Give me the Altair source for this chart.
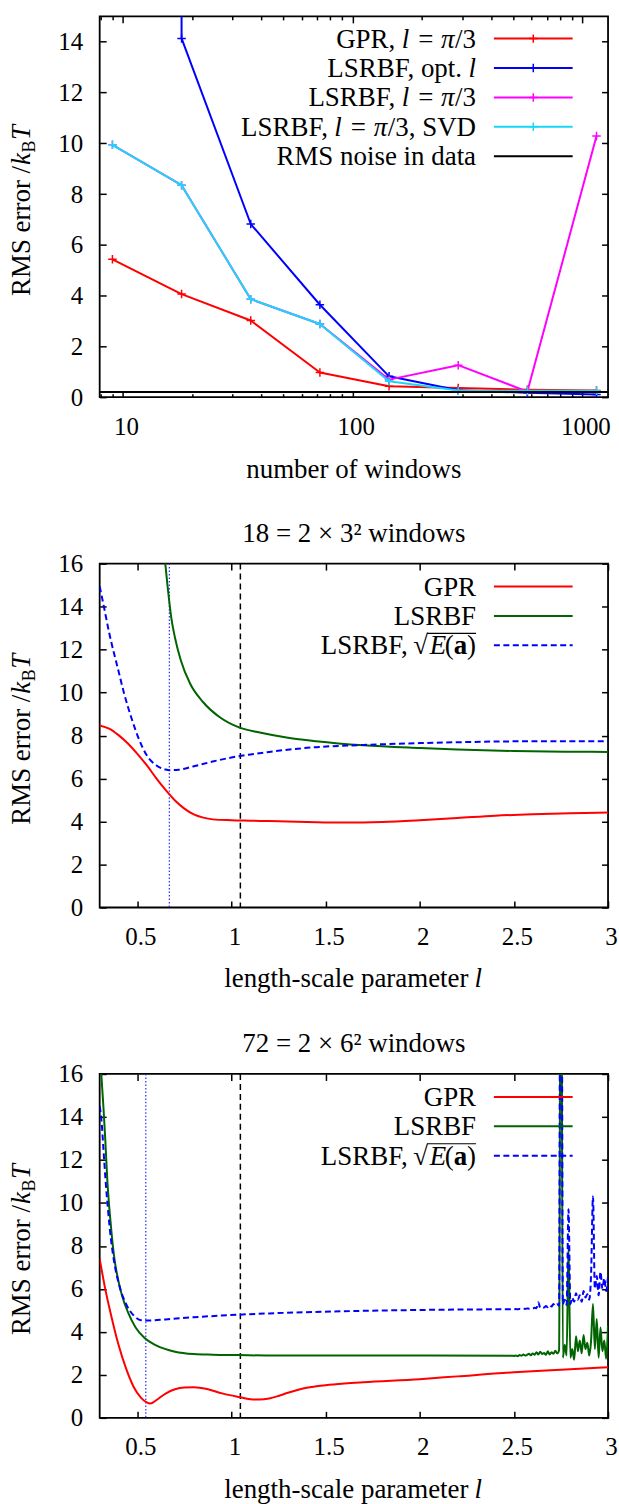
import altair as alt
import pandas as pd

FONT = "Liberation Serif"
FS = 27
TICK_FS = 25
W = 510
H1, H2, H3 = 382, 345, 345
GAP = 167

RED = "#ff0000"
BLUE = "#0000ff"
MAGENTA = "#ff00ff"
CYAN = "#1ad7f7"
GREEN = "#006400"
BLACK = "#000000"
CROSS = "M-1,0L1,0M0,-1L0,1"
DASH = [6, 3.5]

# ---------------- panel 1: error vs number of windows ----------------
windows = [9, 18, 36, 72, 144, 288, 576, 1152]
gpr_pi3 = [5.43, 4.06, 3.02, 0.97, 0.43, 0.36, 0.29, 0.26]
lsrbf_opt = [2000.0, 14.13, 6.82, 3.64, 0.82, 0.27, 0.17, 0.10]
lsrbf_pi3 = [9.94, 8.35, 3.86, 2.88, 0.69, 1.26, 0.22, 10.29]
lsrbf_svd = [9.94, 8.35, 3.86, 2.88, 0.63, 0.26, 0.25, 0.25]
noise_rms = [0.2]
x1_domain = [7.92, 1293]
x1_major = [10, 100, 1000]
x1_minor = [8, 9, 20, 30, 40, 50, 60, 70, 80, 90, 200, 300, 400, 500, 600, 700, 800, 900]
y1_domain = [0, 15]
y1_ticks = [0, 2, 4, 6, 8, 10, 12, 14]

# ---------------- panels 2 and 3: error vs length scale ----------------
l_domain = [0.3, 3.0]
l_ticks = [0.5, 1.0, 1.5, 2.0, 2.5, 3.0]
y23_domain = [0, 16]
y23_ticks = [0, 2, 4, 6, 8, 10, 12, 14, 16]
pi_over_3 = [1.0472]

# 18 windows
gpr18_l = [0.30, 0.35, 0.40, 0.45, 0.50, 0.55, 0.60, 0.65, 0.70, 0.75, 0.80, 0.85, 0.90,
           1.00, 1.10, 1.20, 1.40, 1.60, 1.80, 2.00, 2.20, 2.40, 2.60, 2.80, 3.00]
gpr18 = [8.47, 8.32, 8.02, 7.63, 7.15, 6.62, 6.02, 5.47, 4.98, 4.60, 4.33, 4.18, 4.10,
         4.06, 4.04, 4.02, 3.98, 3.95, 3.98, 4.06, 4.16, 4.27, 4.34, 4.39, 4.42]
lsrbf18_l = [0.645, 0.66, 0.68, 0.70, 0.73, 0.78, 0.85, 0.94, 1.04, 1.15, 1.30, 1.45,
             1.70, 2.00, 2.20, 2.50, 2.80, 3.00]
lsrbf18 = [16.3, 15.0, 13.5, 12.55, 11.53, 10.42, 9.55, 8.84, 8.38, 8.14, 7.90, 7.74,
           7.55, 7.42, 7.35, 7.28, 7.25, 7.24]
sqrtE18_l = [0.30, 0.32, 0.35, 0.40, 0.43, 0.47, 0.51, 0.55, 0.60, 0.65, 0.67, 0.72, 0.80,
             0.90, 1.00, 1.10, 1.20, 1.45, 1.70, 2.00, 2.20, 2.50, 3.00]
sqrtE18 = [14.94, 14.1, 12.8, 11.0, 9.95, 8.78, 7.80, 7.08, 6.62, 6.42, 6.39, 6.41, 6.57,
           6.79, 6.98, 7.12, 7.24, 7.46, 7.56, 7.65, 7.69, 7.73, 7.74]
opt_l_18 = [0.67]

# 72 windows
gpr72_l = [0.30, 0.33, 0.36, 0.40, 0.44, 0.48, 0.52, 0.55, 0.57, 0.60, 0.65, 0.70, 0.75,
           0.80, 0.87, 0.95, 1.04, 1.10, 1.15, 1.20, 1.25, 1.30, 1.35, 1.40, 1.50, 1.60,
           1.70, 2.00, 2.20, 2.50, 2.75, 3.00]
gpr72 = [7.40, 5.98, 4.80, 3.40, 2.30, 1.45, 0.93, 0.72, 0.67, 0.82, 1.13, 1.33, 1.41,
         1.42, 1.34, 1.14, 0.97, 0.87, 0.85, 0.90, 1.02, 1.17, 1.30, 1.40, 1.52, 1.60,
         1.66, 1.80, 1.93, 2.12, 2.24, 2.35]
lsrbf72_l = [0.305, 0.31, 0.32, 0.33, 0.34, 0.35, 0.36, 0.37, 0.38, 0.40, 0.42, 0.45, 0.49,
             0.54, 0.60, 0.70, 0.80, 0.90, 1.04, 1.20, 1.50, 2.00, 2.49,
             2.50, 2.51, 2.52, 2.53, 2.54, 2.55, 2.56, 2.57, 2.58, 2.59, 2.60, 2.61, 2.62,
             2.63, 2.64, 2.65, 2.66, 2.67, 2.68, 2.69, 2.70, 2.71, 2.72, 2.73, 2.74, 2.75,
             2.76, 2.77, 2.78, 2.79, 2.80, 2.81, 2.82, 2.83, 2.84, 2.85, 2.86, 2.87, 2.88,
             2.89, 2.90, 2.91, 2.92, 2.93, 2.94, 2.95, 2.96, 2.97, 2.98, 2.99, 3.00]
lsrbf72 = [16.6, 15.8, 14.45, 12.9, 11.15, 9.9, 8.9, 8.0, 7.3, 6.35, 5.65, 4.92, 4.22,
           3.70, 3.37, 3.08, 2.97, 2.94, 2.92, 2.90, 2.90, 2.90, 2.89,
           2.88, 2.90, 2.87, 2.92, 2.89, 2.95, 2.90, 2.93, 2.98, 2.91, 3.00, 2.94, 3.05,
           2.95, 3.08, 2.97, 3.02, 2.93, 3.10, 2.95, 3.05, 2.98, 3.12, 3.00, 3.15, 30.0,
           2.80, 3.40, 2.90, 8.00, 2.80, 3.20, 2.70, 3.80, 3.10, 3.60, 3.00, 3.85, 3.20,
           3.50, 2.90, 3.60, 5.30, 3.20, 4.60, 2.80, 4.20, 3.10, 3.60, 2.75, 4.30]
sqrtE72_l = [0.30, 0.31, 0.32, 0.33, 0.345, 0.36, 0.38, 0.40, 0.44, 0.48, 0.52, 0.55, 0.65,
             0.80, 1.04, 1.20, 1.60, 2.00, 2.49,
             2.50, 2.51, 2.52, 2.53, 2.54, 2.55, 2.56, 2.57, 2.58, 2.59, 2.60, 2.61, 2.62,
             2.63, 2.64, 2.65, 2.66, 2.67, 2.68, 2.69, 2.70, 2.71, 2.72, 2.73, 2.74, 2.75,
             2.76, 2.77, 2.78, 2.79, 2.80, 2.81, 2.82, 2.83, 2.84, 2.85, 2.86, 2.87, 2.88,
             2.89, 2.90, 2.91, 2.92, 2.93, 2.94, 2.95, 2.96, 2.97, 2.98, 2.99, 3.00]
sqrtE72 = [14.5, 13.8, 12.5, 11.2, 9.6, 8.3, 7.1, 6.3, 5.3, 4.77, 4.54, 4.53, 4.58,
           4.68, 4.80, 4.86, 4.96, 5.02, 5.05,
           5.05, 5.06, 5.05, 5.07, 5.06, 5.08, 5.07, 5.09, 5.08, 5.10, 5.09, 5.12, 5.10,
           5.38, 5.12, 5.15, 5.13, 5.20, 5.15, 5.25, 5.18, 5.30, 5.20, 5.28, 5.22, 40.0,
           5.30, 5.50, 5.25, 9.70, 5.30, 5.60, 5.40, 5.80, 5.50, 5.70, 5.40, 5.90, 5.60,
           5.75, 5.50, 6.70, 10.30, 6.00, 6.60, 5.70, 6.80, 6.00, 6.50, 5.90, 6.60]
opt_l_72 = [0.545]

ONE = pd.DataFrame({"k": [0]})


def txt(s, x, y, size=FS, align="center", baseline="alphabetic", angle=0,
        style="normal", weight="normal", dx=0, dy=0):
    return alt.Chart(ONE).mark_text(
        text=s, align=align, baseline=baseline, angle=angle, font=FONT,
        fontSize=size, fontStyle=style, fontWeight=weight, dx=dx, dy=dy,
        color="black").encode(x=alt.value(x), y=alt.value(y))


def series_line(xv, yv, color, xs, ys, dash=None, width=2.0, interp="linear"):
    df = pd.DataFrame({"x": xv, "y": yv})
    kw = dict(color=color, strokeWidth=width, clip=True, interpolate=interp,
              strokeJoin="round")
    if dash:
        kw["strokeDash"] = dash
    return alt.Chart(df).mark_line(**kw).encode(
        x=alt.X("x:Q", scale=xs, axis=None), y=alt.Y("y:Q", scale=ys, axis=None))


def series_marks(xv, yv, color, xs, ys):
    df = pd.DataFrame({"x": xv, "y": yv})
    return alt.Chart(df).mark_point(
        shape=CROSS, filled=False, size=72, strokeWidth=1.5, color=color,
        opacity=1, clip=True).encode(
        x=alt.X("x:Q", scale=xs, axis=None), y=alt.Y("y:Q", scale=ys, axis=None))


def carriers(xs, ys, x0, H, x_major, x_minor, y_major, xfmt):
    df = pd.DataFrame({"x": [x0], "y": [0]})
    base = alt.Chart(df).mark_point(opacity=0)
    common = dict(grid=False, domain=False, title=None)
    lab = base.encode(
        x=alt.X("x:Q", scale=xs, axis=alt.Axis(
            orient="bottom", values=x_major, format=xfmt, ticks=False, tickSize=0,
            labelFont=FONT, labelFontSize=TICK_FS, labelColor="black",
            labelPadding=17, labelFlush=False, labelOverlap=False, labelOffset=3,
            **common)),
        y=alt.Y("y:Q", scale=ys, axis=alt.Axis(
            orient="left", values=y_major, format="d", ticks=False, tickSize=0,
            labelFont=FONT, labelFontSize=TICK_FS, labelColor="black",
            labelPadding=17, labelFlush=False, labelOverlap=False, **common)))
    tk = dict(labels=False, ticks=True, tickColor="black", tickWidth=1.5, **common)
    in_a = base.encode(
        x=alt.X("x:Q", scale=xs, axis=alt.Axis(orient="top", offset=-H, values=x_major,
                                                tickSize=6.5, **tk)),
        y=alt.Y("y:Q", scale=ys, axis=alt.Axis(orient="right", offset=-W, values=y_major,
                                                tickSize=6.5, **tk)))
    in_b = base.encode(
        x=alt.X("x:Q", scale=xs, axis=alt.Axis(orient="bottom", offset=-H, values=x_major,
                                                tickSize=6.5, **tk)),
        y=alt.Y("y:Q", scale=ys, axis=alt.Axis(orient="left", offset=-W, values=y_major,
                                                tickSize=6.5, **tk)))
    out = [lab, in_a, in_b]
    if x_minor:
        out.append(base.encode(
            x=alt.X("x:Q", scale=xs, axis=alt.Axis(orient="top", offset=-H, values=x_minor,
                                                    tickSize=3.5, **tk)),
            y=alt.Y("y:Q", scale=ys, axis=None)))
        out.append(base.encode(
            x=alt.X("x:Q", scale=xs, axis=alt.Axis(orient="bottom", offset=-H, values=x_minor,
                                                    tickSize=3.5, **tk)),
            y=alt.Y("y:Q", scale=ys, axis=None)))
    return out


def ytitle(H):
    yc = H / 2 + 4
    jy = yc - 45
    x = -70
    return [txt("RMS error /", x, jy, align="right", angle=270),
            txt("k", x, jy, align="left", angle=270, style="italic", dx=1),
            txt("B", x, jy, size=18, align="left", angle=270, dx=13.5, dy=5.5),
            txt("T", x, jy, align="left", angle=270, style="italic", dx=26)]


def xtitle_l(H):
    return [txt("length-scale parameter", W / 2 + 115, H + 80, align="right"),
            txt("l", W / 2 + 121, H + 80, align="left", style="italic")]


def legend_sample(row, color, dash=None, cross=False):
    kw = dict(color=color, strokeWidth=2)
    if dash:
        kw["strokeDash"] = dash
    out = [alt.Chart(ONE).mark_rule(**kw).encode(
        x=alt.value(395.5), x2=alt.value(474.5), y=alt.value(row))]
    if cross:
        out.append(alt.Chart(ONE).mark_point(
            shape=CROSS, filled=False, size=72, strokeWidth=1.5, color=color,
            opacity=1).encode(x=alt.value(435), y=alt.value(row)))
    return out


def pi_third(b, lead, lead_right):
    return [txt(lead, lead_right, b, align="right"),
            txt("l", 306.7, b, style="italic"),
            txt("=", 327.1, b),
            txt("π", 349.2, b, style="italic"),
            txt("/3", 377.6, b, align="right")]


# ---------- panel 1 ----------
xs1 = alt.Scale(type="log", domain=x1_domain, nice=False)
ys1 = alt.Scale(domain=y1_domain, nice=False, zero=False)
L1 = carriers(xs1, ys1, x1_domain[0], H1, x1_major, x1_minor, y1_ticks, "d")
for vals, col in [(gpr_pi3, RED), (lsrbf_opt, BLUE), (lsrbf_pi3, MAGENTA), (lsrbf_svd, CYAN)]:
    L1.append(series_line(windows, vals, col, xs1, ys1))
    L1.append(series_marks(windows, vals, col, xs1, ys1))
L1.append(alt.Chart(pd.DataFrame({"y": noise_rms})).mark_rule(color=BLACK, strokeWidth=2)
          .encode(y=alt.Y("y:Q", scale=ys1, axis=None)))
rows1 = [22.3, 51.8, 81.3, 110.8, 140.3]
for r, c in zip(rows1[:4], [RED, BLUE, MAGENTA, CYAN]):
    L1 += legend_sample(r, c, cross=True)
L1 += legend_sample(rows1[4], BLACK)
b = [r + 9 for r in rows1]
L1 += pi_third(b[0], "GPR,", 296.5)
L1 += [txt("LSRBF, opt.", 363.5, b[1], align="right"),
       txt("l", 373.8, b[1], style="italic")]
L1 += pi_third(b[2], "LSRBF,", 296.5)
L1 += [txt("LSRBF,", 229.0, b[3], align="right"),
       txt("l", 239.2, b[3], style="italic"),
       txt("=", 259.6, b[3]),
       txt("π", 281.7, b[3], style="italic"),
       txt("/3, SVD", 377.6, b[3], align="right"),
       txt("RMS noise in data", 377.6, b[4], align="right")]
L1 += ytitle(H1)
L1.append(txt("number of windows", W / 2, H1 + 81))
panel1 = alt.layer(*L1).resolve_axis(x="independent", y="independent").properties(
    width=W, height=H1)


# ---------- panels 2 / 3 ----------
def l_panel(H, title, gl, gv, ll, lv, el, ev, opt_l):
    xs = alt.Scale(domain=l_domain, nice=False, zero=False)
    ys = alt.Scale(domain=y23_domain, nice=False, zero=False)
    L = carriers(xs, ys, l_domain[0], H, l_ticks, None, y23_ticks, "~g")
    L.append(alt.Chart(pd.DataFrame({"x": opt_l})).mark_rule(
        color="#2a2aff", strokeWidth=1.2, strokeDash=[1.5, 2]).encode(
        x=alt.X("x:Q", scale=xs, axis=None)))
    L.append(alt.Chart(pd.DataFrame({"x": pi_over_3})).mark_rule(
        color=BLACK, strokeWidth=1.5, strokeDash=[6, 4]).encode(
        x=alt.X("x:Q", scale=xs, axis=None)))
    L.append(series_line(gl, gv, RED, xs, ys, interp="monotone"))
    L.append(series_line(ll, lv, GREEN, xs, ys, interp="monotone"))
    L.append(series_line(el, ev, BLUE, xs, ys, dash=DASH, interp="monotone"))
    rows = [23, 52.5, 82]
    L += legend_sample(rows[0], RED)
    L += legend_sample(rows[1], GREEN)
    L += legend_sample(rows[2], BLUE, dash=DASH)
    bb = [r + 9 for r in rows]
    L += [txt("GPR", 377.6, bb[0], align="right"),
          txt("LSRBF", 377.6, bb[1], align="right"),
          txt(")", 373.1, bb[2]),
          txt("a", 361.9, bb[2], weight="bold"),
          txt("(", 350.6, bb[2]),
          txt("E", 339.3, bb[2], style="italic"),
          txt("√", 329.5, bb[2], align="right"),
          txt("LSRBF,", 309.0, bb[2], align="right")]
    L.append(alt.Chart(ONE).mark_rule(color="black", strokeWidth=1.2).encode(
        x=alt.value(328.5), x2=alt.value(377.6), y=alt.value(bb[2] - 21)))
    L += ytitle(H)
    L += xtitle_l(H)
    L.append(txt(title, W / 2, -22))
    return alt.layer(*L).resolve_axis(x="independent", y="independent").properties(
        width=W, height=H)


panel2 = l_panel(H2, "18 = 2 × 3² windows", gpr18_l, gpr18, lsrbf18_l, lsrbf18,
                 sqrtE18_l, sqrtE18, opt_l_18)
panel3 = l_panel(H3, "72 = 2 × 6² windows", gpr72_l, gpr72, lsrbf72_l, lsrbf72,
                 sqrtE72_l, sqrtE72, opt_l_72)

chart = alt.vconcat(panel1, panel2, panel3, spacing=GAP, bounds="flush").properties(
    padding={"left": 7, "top": 12, "right": 0, "bottom": 0},
    background="white",
).configure_view(stroke="black", strokeWidth=1.8)

chart.save("out.html", embed_options={"renderer": "svg", "actions": False})
